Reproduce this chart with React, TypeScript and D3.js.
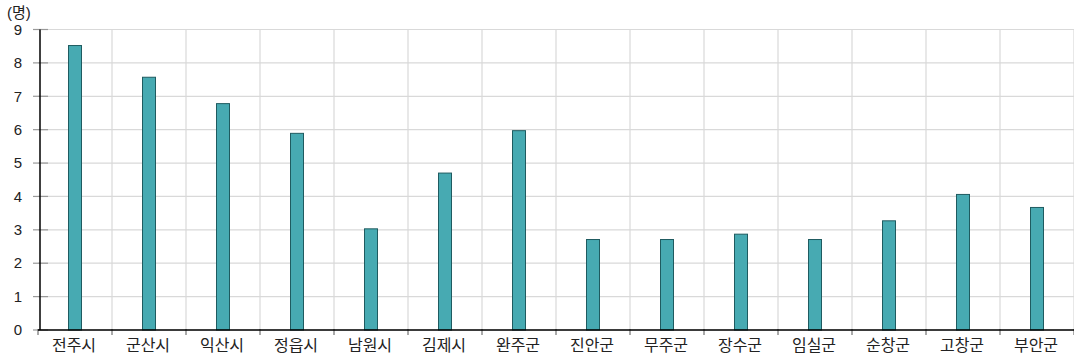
import React from "react";
import * as d3 from "d3";

const categories = ["전주시", "군산시", "익산시", "정읍시", "남원시", "김제시", "완주군", "진안군", "무주군", "장수군", "임실군", "순창군", "고창군", "부안군"];
const values = [8.52, 7.57, 6.78, 5.89, 3.03, 4.7, 5.97, 2.71, 2.71, 2.87, 2.71, 3.27, 4.06, 3.67];
const yTicks = [0, 1, 2, 3, 4, 5, 6, 7, 8, 9];
const unitLabel = "(명)";

const W = 1074;
const H = 359;
const left = 38;
const right = 1074;
const top = 29.5;
const bottom = 330;

export default function App() {
  const x = d3.scaleBand<string>().domain(categories).range([left, right]).padding(0);
  const y = d3.scaleLinear().domain([0, 9]).range([bottom, top]);
  const barW = 13;
  const font = "'Liberation Sans', 'Noto Sans CJK KR', sans-serif";
  const boundaries = categories.map((c) => x(c) as number).concat([right]);
  return (
    <svg width={W} height={H} style={{ position: "absolute", left: 0, top: 0, background: "#fff" }} fontFamily={font}>
      {yTicks.map((t) => (
        <line key={"h" + t} x1={left} x2={right} y1={y(t)} y2={y(t)} stroke="#d9d9d9" strokeWidth={1.2} />
      ))}
      {boundaries.slice(1).map((b, i) => (
        <line key={"v" + i} x1={b} x2={b} y1={top} y2={bottom} stroke="#d9d9d9" strokeWidth={1.2} />
      ))}
      {categories.map((c, i) => {
        const cx = (x(c) as number) + x.bandwidth() / 2;
        return (
          <rect key={c} x={cx - barW / 2} y={y(values[i])} width={barW} height={bottom - y(values[i])} fill="#47aab2" stroke="#1f5b60" strokeWidth={1} />
        );
      })}
      {yTicks.map((t) => (
        <g key={"yt" + t}>
          <line x1={33} x2={48} y1={y(t)} y2={y(t)} stroke="#999" strokeWidth={1.2} />
          <text x={22} y={y(t)} dy="0.35em" textAnchor="end" fontSize={15} fill="#222">{t}</text>
        </g>
      ))}
      {boundaries.map((b, i) => (
        <line key={"xt" + i} x1={b} x2={b} y1={bottom - 1} y2={bottom + 5} stroke="#555" strokeWidth={1} />
      ))}
      <line x1={40} x2={40} y1={top} y2={bottom} stroke="#000" strokeWidth={1.5} />
      <line x1={left} x2={right} y1={bottom} y2={bottom} stroke="#000" strokeWidth={1.5} />
      {categories.map((c) => (
        <text key={"xl" + c} x={(x(c) as number) + x.bandwidth() / 2 - 1} y={351} textAnchor="middle" fontSize={16} fill="#222">{c}</text>
      ))}
      <text x={7} y={18} fontSize={15} fill="#222">{unitLabel}</text>
    </svg>
  );
}
